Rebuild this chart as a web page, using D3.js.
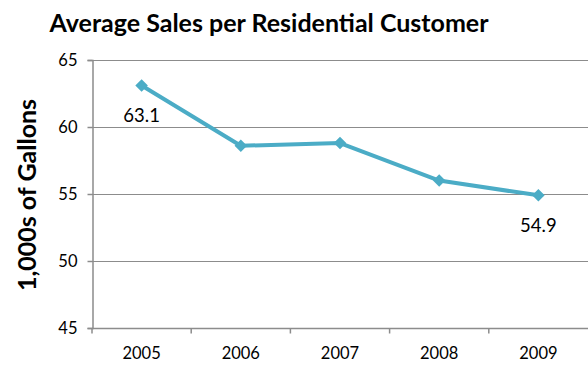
<!DOCTYPE html>
<html>
<head>
<meta charset="utf-8">
<script src="https://cdn.jsdelivr.net/npm/d3@7"></script>
<style>
  body { margin: 0; background: #fff; }
  text { font-family: Lato, "Open Sans", sans-serif; fill: #000; }
</style>
</head>
<body>
<div id="chart"></div>
<script>
const years = ["2005", "2006", "2007", "2008", "2009"];
const sales = [63.1, 58.6, 58.8, 56.0, 54.9];
const yTicks = [45, 50, 55, 60, 65];
// only the first and last points carry a label
const labelled = [0, 4];

const width = 588, height = 369;
const margin = {top: 60, right: 0, bottom: 41, left: 92};

const svg = d3.select("#chart").append("svg")
  .attr("width", width)
  .attr("height", height);

const x = d3.scaleBand()
  .domain(years)
  .range([margin.left, width - margin.right]);

const y = d3.scaleLinear()
  .domain([45, 65])
  .range([height - margin.bottom, margin.top]);

// gridlines
svg.append("g")
  .selectAll("line")
  .data(yTicks.slice(1))
  .join("line")
  .attr("x1", margin.left)
  .attr("x2", width - margin.right)
  .attr("y1", d => y(d) + 0.5)
  .attr("y2", d => y(d) + 0.5)
  .attr("stroke", "#8c8c8c")
  .attr("stroke-width", 1);

// y axis
let yAxis = svg.append("g")
  .attr("transform", "translate(" + (margin.left + 0.5) + ",0)")
  .call(d3.axisLeft(y).tickValues(yTicks).tickSize(5).tickPadding(10));
yAxis.select(".domain").attr("stroke", "#8c8c8c").attr("stroke-width", 1.5);
yAxis.selectAll(".tick line").attr("stroke", "#8c8c8c").attr("stroke-width", 1.5);
yAxis.selectAll(".tick text").style("font-size", "16.5px");

// x axis, ticks between categories
let xAxis = svg.append("g")
  .attr("transform", "translate(0," + (height - margin.bottom + 0.5) + ")");
xAxis.append("line")
  .attr("x1", margin.left)
  .attr("x2", width - margin.right)
  .attr("stroke", "#8c8c8c")
  .attr("stroke-width", 1.5);
xAxis.selectAll("line.tick")
  .data(years)
  .join("line")
  .attr("class", "tick")
  .attr("x1", d => x(d))
  .attr("x2", d => x(d))
  .attr("y1", 0)
  .attr("y2", 5)
  .attr("stroke", "#8c8c8c")
  .attr("stroke-width", 1.5);
xAxis.selectAll("text")
  .data(years)
  .join("text")
  .attr("x", d => x(d) + x.bandwidth() / 2)
  .attr("y", 30)
  .attr("text-anchor", "middle")
  .style("font-size", "16.5px")
  .text(d => d);

// line
const pts = years.map((d, i) => ({year: d, value: sales[i]}));
const line = d3.line()
  .x(d => x(d.year) + x.bandwidth() / 2)
  .y(d => y(d.value));

svg.append("path")
  .datum(pts)
  .attr("d", line)
  .attr("fill", "none")
  .attr("stroke", "#4bacc6")
  .attr("stroke-width", 4)
  .attr("stroke-linejoin", "round");

svg.selectAll("path.marker")
  .data(pts)
  .join("path")
  .attr("class", "marker")
  .attr("d", d3.symbol(d3.symbolDiamond2, 100))
  .attr("transform", d => "translate(" + (x(d.year) + x.bandwidth() / 2) + "," + y(d.value) + ")")
  .attr("fill", "#4bacc6");

svg.selectAll("text.value")
  .data(labelled)
  .join("text")
  .attr("class", "value")
  .attr("x", i => x(years[i]) + x.bandwidth() / 2)
  .attr("y", i => y(sales[i]) + 37)
  .attr("text-anchor", "middle")
  .style("font-size", "18.5px")
  .text(i => sales[i].toFixed(1));

// title
svg.append("text")
  .attr("x", 269)
  .attr("y", 32)
  .attr("text-anchor", "middle")
  .style("font-size", "25px")
  .style("font-weight", "bold")
  .text("Average Sales per Residential Customer");

// y label
svg.append("text")
  .attr("transform", "translate(36," + 195 + ") rotate(-90)")
  .attr("text-anchor", "middle")
  .style("font-size", "25px")
  .style("font-weight", "bold")
  .text("1,000s of Gallons");
</script>
</body>
</html>
